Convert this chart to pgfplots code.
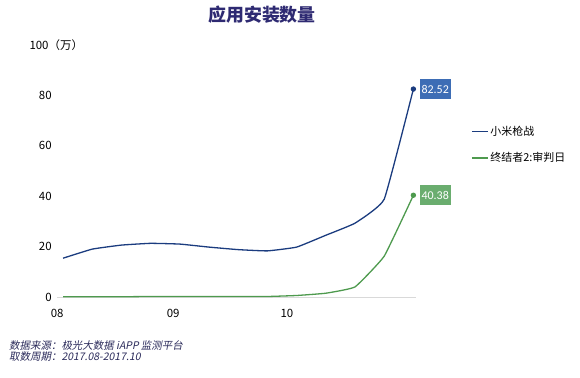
\documentclass[border=0pt]{standalone}
\usepackage{fontspec}
\setmainfont{Noto Sans CJK SC}
\newfontfamily\cjkit[FakeSlant=0.2]{Noto Sans CJK SC}
\newfontfamily\boxfont{Carlito}
\usepackage{pgfplots}
\pgfplotsset{compat=1.18}
\definecolor{titlec}{HTML}{2E2A72}
\definecolor{bluel}{HTML}{1B3C7F}
\definecolor{greenl}{HTML}{4E9A4E}
\definecolor{blueb}{HTML}{3D6DB5}
\definecolor{greenb}{HTML}{6AAD6F}
\definecolor{notec}{HTML}{2A2A5A}
\definecolor{basec}{HTML}{D9D9D9}
\begin{document}
\begin{tikzpicture}[x=1bp,y=1bp]
\useasboundingbox (0,0) rectangle (580,377);
\node[font=\fontsize{18}{20}\selectfont\bfseries, text=titlec] at (262,362) {应用安装数量};
\begin{axis}[
  at={(57.2bp,80bp)}, anchor=south west,
  scale only axis, width=359.1bp, height=252bp,
  xmin=-0.2, xmax=12.1, ymin=0, ymax=100,
  axis line style={draw=none},
  tick style={draw=none},
  clip=false,
  xtick={-0.2,3.77,7.67}, xticklabels={08,09,10},
  ytick={0,20,40,60,80}, yticklabels={0,20,40,60,80},
  major tick length=0pt,
  tick label style={font=\fontsize{11.5}{13}\selectfont, text=black},
  /pgf/number format/assume math mode=true,
  xticklabel style={yshift=-9bp},
  yticklabel style={xshift=-2bp},
  legend style={at={(1.144,0.605)}, anchor=west, draw=none, fill=none,
    font=\fontsize{11}{13}\selectfont, row sep=12bp, legend cell align=left},
  legend image code/.code={\draw[#1, line width=1.2bp] (0bp,0bp) -- (16bp,0bp);},
]
\draw[basec, line width=1bp] (axis cs:-0.2,0) -- (axis cs:12.1,0);
\addplot[bluel, line width=1.3bp, smooth, tension=0.2, mark=*, mark size=2bp, mark indices={13}] coordinates {
 (0,15.4) (1,19.0) (2,20.6) (3,21.3) (4,21.0) (5,19.8) (6,18.8) (7,18.3) (8,19.8) (9,24.5) (10,29.3) (11,38.8) (12,82.52)};
\addlegendentry{小米枪战}
\addplot[greenl, line width=1.3bp, smooth, tension=0.2, mark=*, mark size=2bp, mark indices={13}] coordinates {
 (0,0.1) (1,0.1) (2,0.1) (3,0.2) (4,0.2) (5,0.2) (6,0.2) (7,0.2) (8,0.6) (9,1.5) (10,4.0) (11,16.2) (12,40.38)};
\addlegendentry{终结者2:审判日}
\node[anchor=west, fill=blueb, text=white, font=\boxfont\fontsize{12}{13}\selectfont, inner sep=2bp, minimum height=20bp] at ([xshift=6bp]axis cs:12,82.52) {82.52};
\node[anchor=west, fill=greenb, text=white, font=\boxfont\fontsize{12}{13}\selectfont, inner sep=2bp, minimum height=20bp] at ([xshift=6bp]axis cs:12,40.38) {40.38};
\end{axis}
\node[anchor=west, font=\fontsize{11.5}{13}\selectfont] at (26,332) {100（万）};
\node[anchor=west, font=\cjkit\fontsize{10.5}{12}\selectfont, text=notec, align=left, inner sep=0pt] at (9,25.5) {数据来源：极光大数据 iAPP 监测平台\\[-1bp]取数周期：2017.08-2017.10};
\end{tikzpicture}
\end{document}
